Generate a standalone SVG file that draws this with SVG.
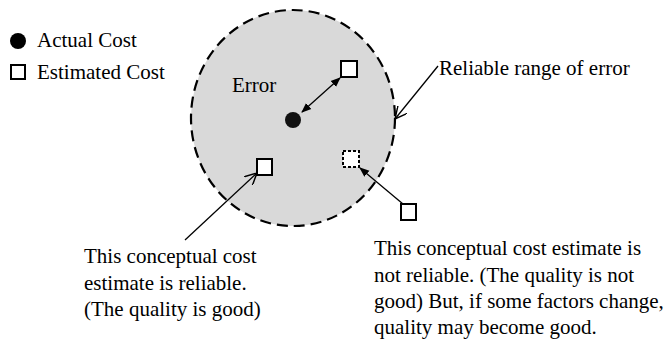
<svg xmlns="http://www.w3.org/2000/svg" width="667" height="344" viewBox="0 0 667 344">
<style>
text{font-family:"Liberation Serif","Times New Roman",serif;fill:#000;font-size:21px}
.sq{fill:#fff;stroke:#000;stroke-width:2}
.ln{stroke:#000;stroke-width:1.3;fill:none}
</style>
<defs>
<marker id="fa" viewBox="0 0 10 10" refX="9" refY="5" markerWidth="10" markerHeight="10" markerUnits="userSpaceOnUse" orient="auto-start-reverse"><path d="M0,1 L10,5 L0,9 z" fill="#000"/></marker>
<marker id="oa" viewBox="0 0 10 10" refX="10" refY="5" markerWidth="12" markerHeight="12" markerUnits="userSpaceOnUse" orient="auto"><path d="M0,0 L10,5 L0,10" fill="none" stroke="#000" stroke-width="1.2"/></marker>
</defs>
<rect width="667" height="344" fill="#fff"/>
<g id="range">
<ellipse cx="293" cy="118" rx="102" ry="108" fill="#d9d9d9" stroke="#000" stroke-width="2.2" stroke-dasharray="11,6"/>
</g>
<g id="legend">
<circle cx="18" cy="41" r="8" fill="#000"/>
<text x="37" y="47">Actual Cost</text>
<rect class="sq" x="11" y="65" width="14" height="14"/>
<text x="37" y="79">Estimated Cost</text>
</g>
<g id="error-label"><text x="232" y="92">Error</text></g>
<g id="actual"><circle cx="293" cy="120" r="8" fill="#111"/></g>
<g id="est-top"><rect class="sq" x="341" y="61" width="16" height="16"/></g>
<g id="est-reliable"><rect class="sq" x="257" y="159" width="15" height="16"/></g>
<g id="est-dashed"><rect x="343" y="151" width="16" height="16" fill="#fff" stroke="#000" stroke-width="2" stroke-dasharray="3,2"/></g>
<g id="est-outside"><rect class="sq" x="401" y="204" width="15" height="16"/></g>
<g id="connectors">
<line class="ln" x1="302" y1="112" x2="340" y2="78" marker-start="url(#fa)" marker-end="url(#fa)"/>
<line class="ln" x1="403" y1="204" x2="360" y2="168" marker-end="url(#fa)"/>
<line class="ln" x1="185" y1="240" x2="257" y2="173" marker-end="url(#oa)"/>
<line class="ln" x1="438" y1="66" x2="395" y2="119" marker-end="url(#oa)"/>
</g>
<g id="label-range"><text x="439" y="75">Reliable range of error</text></g>
<g id="label-reliable">
<text x="84" y="263">This conceptual cost</text>
<text x="84" y="290">estimate is reliable.</text>
<text x="84" y="316">(The quality is good)</text>
</g>
<g id="label-unreliable">
<text x="374" y="255">This conceptual cost estimate is</text>
<text x="374" y="282">not reliable. (The quality is not</text>
<text x="374" y="308">good) But, if some factors change,</text>
<text x="374" y="334">quality may become good.</text>
</g>
</svg>
